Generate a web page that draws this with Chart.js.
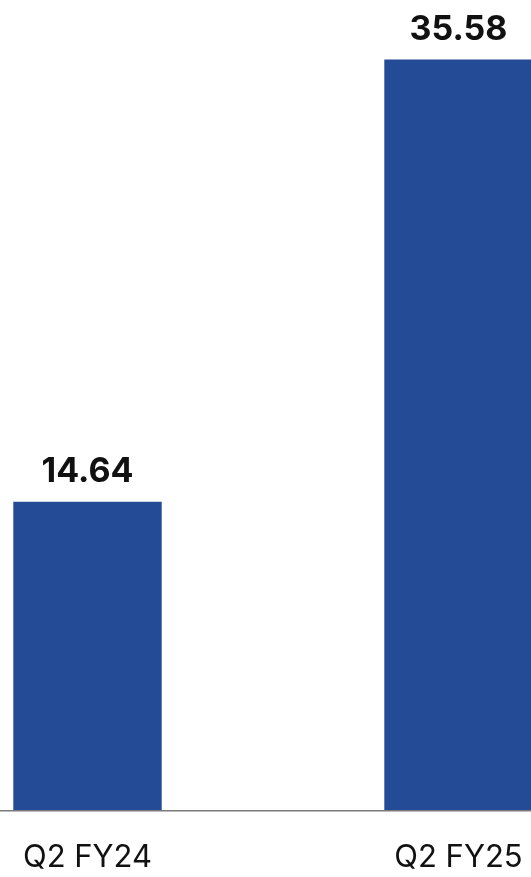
<!DOCTYPE html>
<html>
<head>
<meta charset="utf-8">
<script src="https://cdn.jsdelivr.net/npm/chart.js@4"></script>
<style>
  html, body { margin: 0; padding: 0; background: #ffffff; overflow: hidden; }
  #wrap { position: absolute; left: -98px; top: 0; width: 742px; height: 877px; }
</style>
</head>
<body>
<div id="wrap"><canvas id="grafico"></canvas></div>
<script>
var periodos = ['Q2 FY24', 'Q2 FY25'];
var valores = [14.64, 35.58];
var corBarra = 'rgb(35, 75, 150)';

// escreve o valor em cima de cada barra
const rotuloValores = {
    id: 'rotuloValores',
    afterDatasetsDraw(chart) {
        const ctx = chart.ctx;
        const meta = chart.getDatasetMeta(0);
        ctx.save();
        ctx.font = 'bold 34px Inter';
        ctx.fillStyle = '#111111';
        ctx.textAlign = 'center';
        ctx.textBaseline = 'alphabetic';
        meta.data.forEach(function (barra, i) {
            ctx.fillText(valores[i].toFixed(2), barra.x, barra.y - 20);
        });
        ctx.restore();
    }
};

const dados = {
    labels: periodos,
    datasets: [{
        label: 'Valor',
        data: valores,
        backgroundColor: corBarra,
        borderWidth: 0,
        barPercentage: 0.4,
        categoryPercentage: 1
    }]
};

const config = {
    type: 'bar',
    data: dados,
    plugins: [rotuloValores],
    options: {
        responsive: true,
        maintainAspectRatio: false,
        animation: false,
        layout: { padding: 0 },
        plugins: {
            legend: { display: false },
            tooltip: { enabled: false }
        },
        scales: {
            x: {
                grid: { display: false, drawTicks: false, z: 1 },
                border: { display: true, color: '#7a7a7a', width: 1.5, z: 1 },
                ticks: {
                    color: '#111111',
                    font: { family: 'Inter', size: 31 },
                    padding: 28,
                    maxRotation: 0
                },
                afterFit: function (escala) { escala.height = 66; }
            },
            y: {
                display: false,
                min: 0,
                max: 38.4
            }
        }
    }
};

const grafico = new Chart(document.getElementById('grafico'), config);
</script>
</body>
</html>
